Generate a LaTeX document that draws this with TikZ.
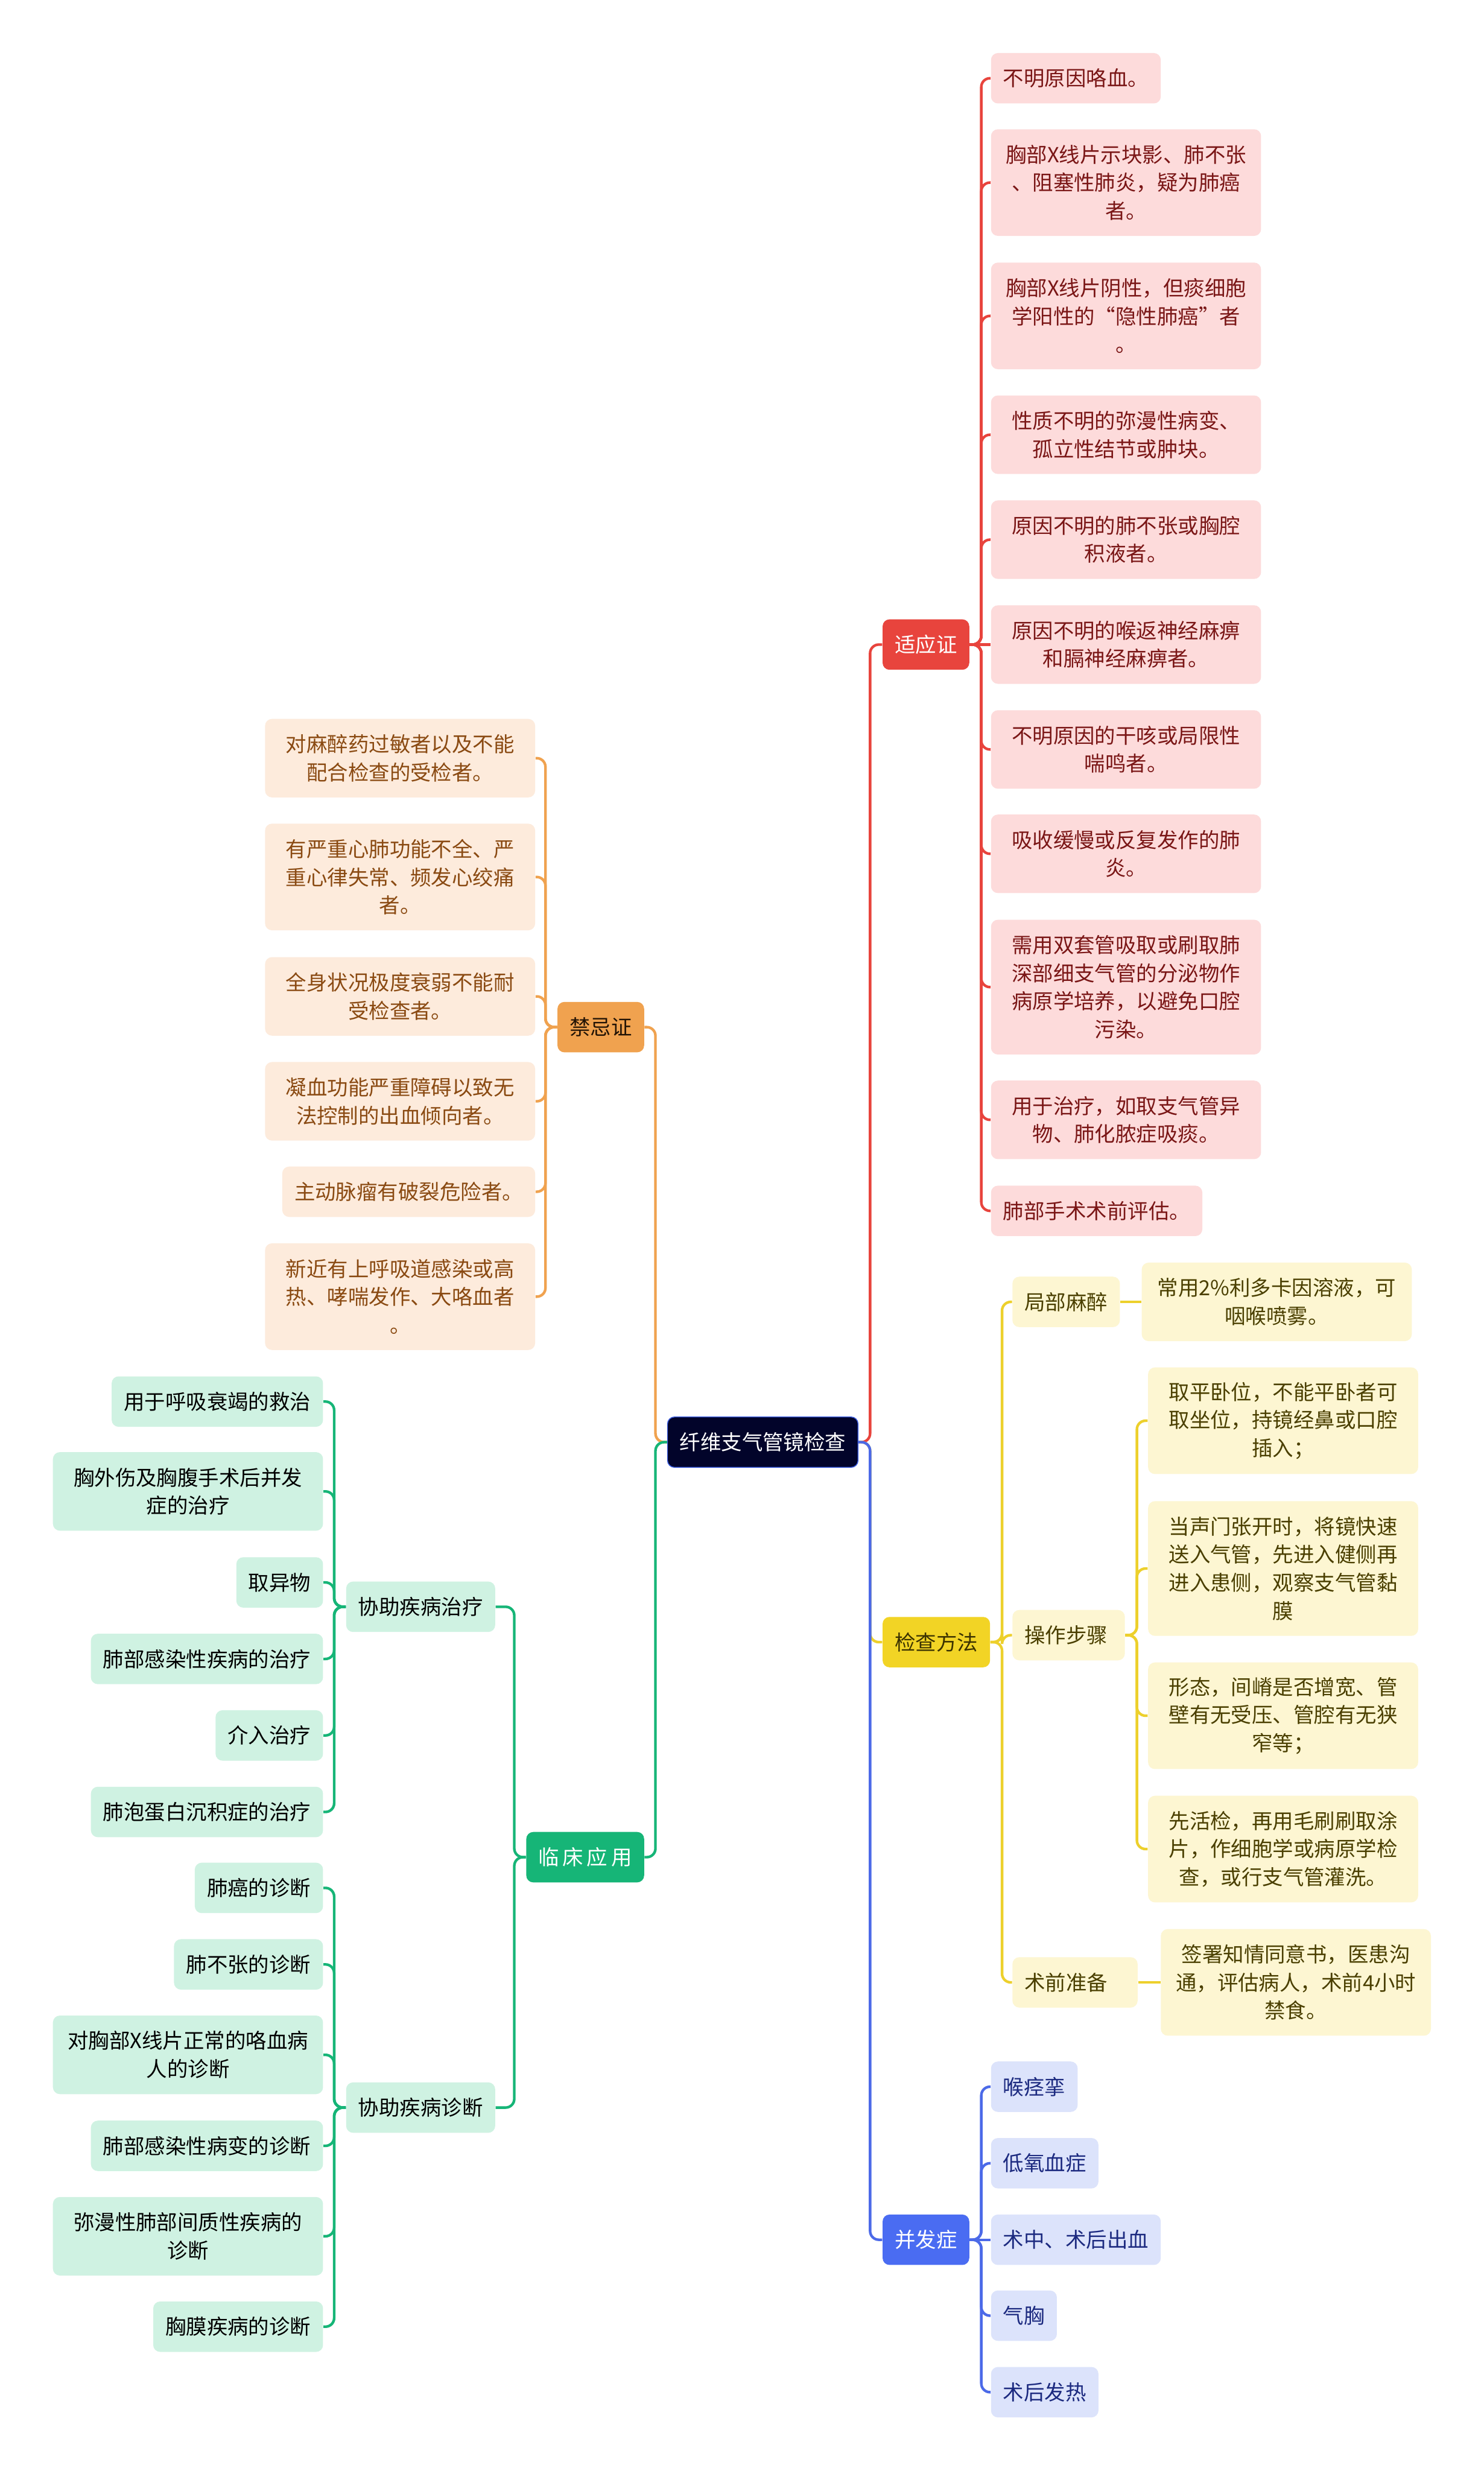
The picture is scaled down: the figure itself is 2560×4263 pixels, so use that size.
\documentclass[tikz,border=0pt]{standalone}
\usepackage{fontspec}
\setmainfont{Noto Sans CJK SC}
\usetikzlibrary{positioning,calc}
\definecolor{rootbg}{HTML}{02042A}
\definecolor{rootln}{HTML}{3D5FE3}
\definecolor{redln}{HTML}{E8443D}
\definecolor{redbg}{HTML}{FDDBDB}
\definecolor{redtx}{HTML}{7A1616}
\definecolor{orgln}{HTML}{F0A24F}
\definecolor{orgbg}{HTML}{FDEBDC}
\definecolor{orgtx}{HTML}{8A4A12}
\definecolor{grnln}{HTML}{16B577}
\definecolor{grnbg}{HTML}{CFF2E2}
\definecolor{ylwln}{HTML}{EDD02C}
\definecolor{ylwhd}{HTML}{F2D425}
\definecolor{ylwbg}{HTML}{FDF6D2}
\definecolor{ylwtx}{HTML}{4A3F00}
\definecolor{bluln}{HTML}{4C6AE8}
\definecolor{bluhd}{HTML}{4A6CF2}
\definecolor{blubg}{HTML}{DCE3FB}
\definecolor{blutx}{HTML}{1C2A80}
\tikzset{
  fig/.style={font=\fontsize{10.2pt}{13.8pt}\selectfont},
  nd/.style={rounded corners=1.2mm,inner xsep=2.1mm,inner ysep=1mm,
             minimum height=8.7mm,align=center},
  wrap/.style={text width=42.4mm},
  two/.style={minimum height=13.55mm},
  three/.style={minimum height=18.4mm},
  four/.style={minimum height=23.25mm},
  ln/.style={line width=0.45mm,rounded corners=1.5mm},
}
\begin{document}
\begin{tikzpicture}[fig,x=0.1mm,y=-0.1mm,
  rootbox/.style={nd,fill=rootbg,draw=rootln,line width=0.15mm,text=white},
  head/.style={nd,text=white},
  rl/.style={nd,fill=redbg,text=redtx,anchor=west},
  ol/.style={nd,fill=orgbg,text=orgtx,anchor=east},
  gl/.style={nd,fill=grnbg,text=black,anchor=east},
  yl/.style={nd,fill=ylwbg,text=ylwtx,anchor=west},
  bl/.style={nd,fill=blubg,text=blutx,anchor=west}]

\fill[white] (0,0) rectangle (2560,4263);
\useasboundingbox (0,0) rectangle (2560,4263);

\node[rootbox] (root) at (1316,2488) {纤维支气管镜检查};

\node[head,fill=redln,anchor=west] (ind) at (1522,1112) {适应证};
\node[head,fill=orgln,text=black!75!orgtx,anchor=east] (contra) at (1112,1772) {禁忌证};
\node[head,fill=grnln,anchor=east] (clin) at (1112,3204) {临\,床\,应\,用};
\node[head,fill=ylwhd,text=ylwtx!80!black,anchor=west] (meth) at (1522,2833) {检查方法};
\node[head,fill=bluhd,anchor=west] (comp) at (1522,3864) {并发症};

\node[rl] (ind1) at (1709,135) {不明原因咯血。};
\node[rl,wrap,three] (ind2) at (1709,315) {胸部X线片示块影、肺不张\\、阻塞性肺炎，疑为肺癌\\者。};
\node[rl,wrap,three] (ind3) at (1709,545) {胸部X线片阴性，但痰细胞\\学阳性的“隐性肺癌”者\\。};
\node[rl,wrap,two] (ind4) at (1709,750) {性质不明的弥漫性病变、\\孤立性结节或肿块。};
\node[rl,wrap,two] (ind5) at (1709,931) {原因不明的肺不张或胸腔\\积液者。};
\node[rl,wrap,two] (ind6) at (1709,1112) {原因不明的喉返神经麻痹\\和膈神经麻痹者。};
\node[rl,wrap,two] (ind7) at (1709,1293) {不明原因的干咳或局限性\\喘鸣者。};
\node[rl,wrap,two] (ind8) at (1709,1473) {吸收缓慢或反复发作的肺\\炎。};
\node[rl,wrap,four] (ind9) at (1709,1703) {需用双套管吸取或刷取肺\\深部细支气管的分泌物作\\病原学培养，以避免口腔\\污染。};
\node[rl,wrap,two] (ind10) at (1709,1932) {用于治疗，如取支气管异\\物、肺化脓症吸痰。};
\node[rl] (ind11) at (1709,2089) {肺部手术术前评估。};

\node[ol,wrap,two] (con1) at (924,1308) {对麻醉药过敏者以及不能\\配合检查的受检者。};
\node[ol,wrap,three] (con2) at (924,1513) {有严重心肺功能不全、严\\重心律失常、频发心绞痛\\者。};
\node[ol,wrap,two] (con3) at (924,1719) {全身状况极度衰弱不能耐\\受检查者。};
\node[ol,wrap,two] (con4) at (924,1900) {凝血功能严重障碍以致无\\法控制的出血倾向者。};
\node[ol] (con5) at (924,2056) {主动脉瘤有破裂危险者。};
\node[ol,wrap,three] (con6) at (924,2237) {新近有上呼吸道感染或高\\热、哮喘发作、大咯血者\\。};

\node[gl] (treat) at (855,2772) {协助疾病治疗};
\node[gl] (diag) at (855,3636) {协助疾病诊断};
\node[gl] (treat1) at (558,2418) {用于呼吸衰竭的救治};
\node[gl,wrap,two] (treat2) at (558,2573) {胸外伤及胸腹手术后并发\\症的治疗};
\node[gl] (treat3) at (558,2730) {取异物};
\node[gl] (treat4) at (558,2862) {肺部感染性疾病的治疗};
\node[gl] (treat5) at (558,2994) {介入治疗};
\node[gl] (treat6) at (558,3126) {肺泡蛋白沉积症的治疗};
\node[gl] (diag1) at (558,3257) {肺癌的诊断};
\node[gl] (diag2) at (558,3389) {肺不张的诊断};
\node[gl,wrap,two] (diag3) at (558,3545) {对胸部X线片正常的咯血病\\人的诊断};
\node[gl] (diag4) at (558,3702) {肺部感染性病变的诊断};
\node[gl,wrap,two] (diag5) at (558,3858) {弥漫性肺部间质性疾病的\\诊断};
\node[gl] (diag6) at (558,4014) {胸膜疾病的诊断};

\node[yl] (anes) at (1746,2246) {局部麻醉};
\node[yl,text width=15.2mm,align=left] (ops) at (1746,2821) {操作步骤};
\node[yl,text width=17.4mm,align=left] (prep) at (1746,3420) {术前准备};
\node[yl,wrap,two] (anes1) at (1969,2246) {常用2\%利多卡因溶液，可\\咽喉喷雾。};
\node[yl,wrap,three] (ops1) at (1980,2451) {取平卧位，不能平卧者可\\取坐位，持镜经鼻或口腔\\插入；};
\node[yl,wrap,four] (ops2) at (1980,2706) {当声门张开时，将镜快速\\送入气管，先进入健侧再\\进入患侧，观察支气管黏\\膜};
\node[yl,wrap,three] (ops3) at (1980,2960) {形态，间嵴是否增宽、管\\壁有无受压、管腔有无狭\\窄等；};
\node[yl,wrap,three] (ops4) at (1980,3190) {先活检，再用毛刷刷取涂\\片，作细胞学或病原学检\\查，或行支气管灌洗。};
\node[yl,wrap,three] (prep1) at (2002,3420) {签署知情同意书，医患沟\\通，评估病人，术前4小时\\禁食。};

\node[bl] (comp1) at (1709,3600) {喉痉挛};
\node[bl] (comp2) at (1709,3732) {低氧血症};
\node[bl] (comp3) at (1709,3864) {术中、术后出血};
\node[bl] (comp4) at (1709,3995) {气胸};
\node[bl] (comp5) at (1709,4127) {术后发热};

\draw[ln,orgln] (root.west) -- ([xshift=-2mm]root.west) |- (contra.east);
\draw[ln,grnln] (root.west) -- ([xshift=-2mm]root.west) |- (clin.east);
\draw[ln,redln] (root.east) -- ([xshift=2mm]root.east) |- (ind.west);
\draw[ln,ylwln] (root.east) -- ([xshift=2mm]root.east) |- (meth.west);
\draw[ln,bluln] (root.east) -- ([xshift=2mm]root.east) |- (comp.west);

\foreach \c in {ind1,ind2,ind3,ind4,ind5,ind7,ind8,ind9,ind10,ind11}
  \draw[ln,redln] (ind.east) -- ([xshift=2mm]ind.east) |- (\c.west);
\draw[ln,redln] (ind.east) -- (ind6.west);

\foreach \c in {con1,con2,con3,con4,con5,con6}
  \draw[ln,orgln] (contra.west) -- ([xshift=-2mm]contra.west) |- (\c.east);

\foreach \c in {treat,diag}
  \draw[ln,grnln] (clin.west) -- ([xshift=-2mm]clin.west) |- (\c.east);
\foreach \c in {treat1,treat2,treat3,treat4,treat5,treat6}
  \draw[ln,grnln] (treat.west) -- ([xshift=-2mm]treat.west) |- (\c.east);
\foreach \c in {diag1,diag2,diag3,diag4,diag5,diag6}
  \draw[ln,grnln] (diag.west) -- ([xshift=-2mm]diag.west) |- (\c.east);

\foreach \c in {anes,ops,prep}
  \draw[ln,ylwln] (meth.east) -- ([xshift=2mm]meth.east) |- (\c.west);
\foreach \c in {ops1,ops2,ops3,ops4}
  \draw[ln,ylwln] (ops.east) -- ([xshift=2mm]ops.east) |- (\c.west);
\draw[ln,ylwln] (anes.east) -- (anes1.west);
\draw[ln,ylwln] (prep.east) -- (prep1.west);

\foreach \c in {comp1,comp2,comp4,comp5}
  \draw[ln,bluln] (comp.east) -- ([xshift=2mm]comp.east) |- (\c.west);
\draw[ln,bluln] (comp.east) -- (comp3.west);

\end{tikzpicture}
\end{document}
